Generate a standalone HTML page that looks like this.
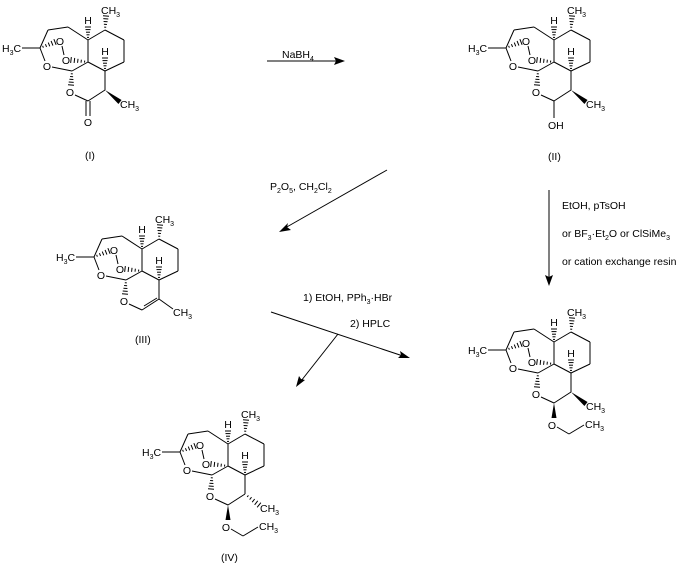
<!DOCTYPE html>
<html><head><meta charset="utf-8"><style>
html,body{margin:0;padding:0;background:#fff}
svg{display:block;font-family:"Liberation Sans",sans-serif;font-size:10.5px}
</style></head><body>
<svg id="s" width="684" height="566" viewBox="0 0 684 566">
<g stroke="#000" stroke-width="1" fill="none">
<line x1="267" y1="61" x2="338" y2="61"/>
<line x1="387" y1="170" x2="285" y2="228"/>
<line x1="271" y1="312" x2="403" y2="356"/>
<line x1="338" y1="334" x2="301" y2="381"/>
<line x1="549" y1="190" x2="549" y2="278"/>
</g>
<g fill="#000">
<polygon points="345,61 334,57 336,61 334,65"/>
<polygon points="279,232 288,223 287,227 291,230"/>
<polygon points="410,358 398,358 401,355 400,351"/>
<polygon points="296,387 299,376 301,379 305,380"/>
<polygon points="549,286 545,275 549,277 553,275"/>
</g>
<g fill="#000">
<text x="282" y="58">NaBH<tspan font-size="7" dy="3">4</tspan></text>
<text x="270" y="190">P<tspan font-size="7" dy="3">2</tspan><tspan dy="-3">O</tspan><tspan font-size="7" dy="3">5</tspan><tspan dy="-3">, CH</tspan><tspan font-size="7" dy="3">2</tspan><tspan dy="-3">Cl</tspan><tspan font-size="7" dy="3">2</tspan></text>
<text x="303" y="301">1) EtOH, PPh<tspan font-size="7" dy="3">3</tspan><tspan dy="-3">·HBr</tspan></text>
<text x="350" y="327">2) HPLC</text>
<text x="562" y="209">EtOH, pTsOH</text>
<text x="562" y="237">or BF<tspan font-size="7" dy="3">3</tspan><tspan dy="-3">·Et</tspan><tspan font-size="7" dy="3">2</tspan><tspan dy="-3">O or ClSiMe</tspan><tspan font-size="7" dy="3">3</tspan></text>
<text x="562" y="265">or cation exchange resin</text>
<text x="85" y="159">(I)</text>
<text x="548" y="160">(II)</text>
<text x="135" y="343">(III)</text>
<text x="221" y="561">(IV)</text>
</g>
<g id="m1" transform="translate(0,0)"><g class="t">
<text x="2" y="52">H<tspan font-size="7" dy="3">3</tspan><tspan dy="-3">C</tspan></text>
<text x="60" y="45" text-anchor="middle">O</text><text x="66" y="64" text-anchor="middle">O</text>
<text x="47" y="70" text-anchor="middle">O</text><text x="70" y="96" text-anchor="middle">O</text>
<text x="101" y="14">CH<tspan font-size="7" dy="3">3</tspan></text>
<text x="88" y="24" text-anchor="middle">H</text><text x="105" y="55" text-anchor="middle">H</text>
<text x="88" y="126" text-anchor="middle">O</text>
<text x="120" y="108">CH<tspan font-size="7" dy="3">3</tspan></text></g></g>
<g id="m2" transform="translate(466,0)"><g class="t">
<text x="2" y="52">H<tspan font-size="7" dy="3">3</tspan><tspan dy="-3">C</tspan></text>
<text x="60" y="45" text-anchor="middle">O</text><text x="66" y="64" text-anchor="middle">O</text>
<text x="47" y="70" text-anchor="middle">O</text><text x="70" y="96" text-anchor="middle">O</text>
<text x="101" y="14">CH<tspan font-size="7" dy="3">3</tspan></text>
<text x="88" y="24" text-anchor="middle">H</text><text x="105" y="55" text-anchor="middle">H</text>
<text x="82" y="129">OH</text>
<text x="120" y="108">CH<tspan font-size="7" dy="3">3</tspan></text></g></g>
<g id="m3" transform="translate(54,209)"><g class="t">
<text x="2" y="52">H<tspan font-size="7" dy="3">3</tspan><tspan dy="-3">C</tspan></text>
<text x="60" y="45" text-anchor="middle">O</text><text x="66" y="64" text-anchor="middle">O</text>
<text x="47" y="70" text-anchor="middle">O</text><text x="70" y="96" text-anchor="middle">O</text>
<text x="101" y="14">CH<tspan font-size="7" dy="3">3</tspan></text>
<text x="88" y="24" text-anchor="middle">H</text><text x="105" y="55" text-anchor="middle">H</text>
<text x="119" y="107">CH<tspan font-size="7" dy="3">3</tspan></text></g></g>
<g id="m4" transform="translate(466,302)"><g class="t">
<text x="2" y="52">H<tspan font-size="7" dy="3">3</tspan><tspan dy="-3">C</tspan></text>
<text x="60" y="45" text-anchor="middle">O</text><text x="66" y="64" text-anchor="middle">O</text>
<text x="47" y="70" text-anchor="middle">O</text><text x="70" y="96" text-anchor="middle">O</text>
<text x="101" y="14">CH<tspan font-size="7" dy="3">3</tspan></text>
<text x="88" y="24" text-anchor="middle">H</text><text x="105" y="55" text-anchor="middle">H</text>
<text x="86" y="127" text-anchor="middle">O</text>
<text x="120" y="108">CH<tspan font-size="7" dy="3">3</tspan></text>
<text x="119" y="126">CH<tspan font-size="7" dy="3">3</tspan></text></g></g>
<g id="m5" transform="translate(140,404)"><g class="t">
<text x="2" y="52">H<tspan font-size="7" dy="3">3</tspan><tspan dy="-3">C</tspan></text>
<text x="60" y="45" text-anchor="middle">O</text><text x="66" y="64" text-anchor="middle">O</text>
<text x="47" y="70" text-anchor="middle">O</text><text x="70" y="96" text-anchor="middle">O</text>
<text x="101" y="14">CH<tspan font-size="7" dy="3">3</tspan></text>
<text x="88" y="24" text-anchor="middle">H</text><text x="105" y="55" text-anchor="middle">H</text>
<text x="86" y="127" text-anchor="middle">O</text>
<text x="120" y="108">CH<tspan font-size="7" dy="3">3</tspan></text>
<text x="119" y="126">CH<tspan font-size="7" dy="3">3</tspan></text></g></g>
</svg>
<script>
var NS="http://www.w3.org/2000/svg";
function L(g,a,b,c,d,w){var e=document.createElementNS(NS,"line");e.setAttribute("x1",a);e.setAttribute("y1",b);e.setAttribute("x2",c);e.setAttribute("y2",d);e.setAttribute("stroke","#000");e.setAttribute("stroke-width",w||1);g.appendChild(e);}
function H(g,a,b,c,d){var dx=c-a,dy=d-b,len=Math.hypot(dx,dy),nx=-dy/len,ny=dx/len,n=5;for(var i=1;i<=n;i++){var t=i/n,px=a+dx*t,py=b+dy*t,w=0.5+2.5*t;L(g,px-nx*w,py-ny*w,px+nx*w,py+ny*w);}}
function W(g,a,b,c,d){var dx=c-a,dy=d-b,len=Math.hypot(dx,dy),nx=-dy/len*2.5,ny=dx/len*2.5;var p=document.createElementNS(NS,"polygon");p.setAttribute("points",a+","+b+" "+(c+nx)+","+(d+ny)+" "+(c-nx)+","+(d-ny));p.setAttribute("fill","#000");g.appendChild(p);}
function common(g){
L(g,22,48,40,48);L(g,40,48,48,30);L(g,48,30,68,27);L(g,68,27,88,40);
H(g,40,48,55,42);L(g,62,46,64,55);L(g,40,48,45,61);L(g,52,67,72,71);
H(g,88,62,71,60);L(g,88,40,88,62);L(g,88,62,72,71);
H(g,88,40,88,27);L(g,88,40,105,30);L(g,105,30,124,40);L(g,124,40,124,62);L(g,124,62,105,71);L(g,105,71,88,62);
H(g,105,30,106,16);H(g,105,71,105,58);H(g,72,71,71,85);
L(g,75,95,88,101);L(g,88,101,105,90);L(g,105,90,105,71);}
var g;
g=document.getElementById("m1");common(g);L(g,86,101,86,116);L(g,90,101,90,116);W(g,105,90,120,102);
g=document.getElementById("m2");common(g);L(g,88,101,88,118);W(g,105,90,120,102);
g=document.getElementById("m3");common(g);L(g,90,97,103,89);L(g,105,90,119,100);
g=document.getElementById("m4");common(g);W(g,88,101,88,116);L(g,91,125,103,132);L(g,103,132,118,123);W(g,105,90,120,102);
g=document.getElementById("m5");common(g);W(g,88,101,88,116);L(g,91,125,103,132);L(g,103,132,118,123);H(g,105,90,119,101);
</script>
</body></html>
